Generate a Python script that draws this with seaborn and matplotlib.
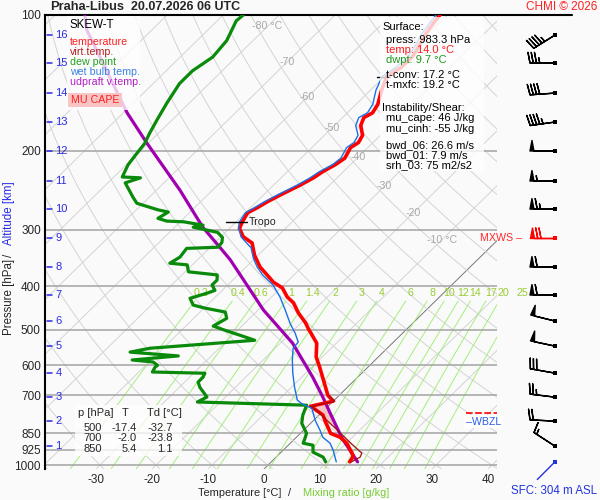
import numpy as np
import pandas as pd
import matplotlib
matplotlib.use("Agg")
import matplotlib.pyplot as plt
from matplotlib.patches import Rectangle
from matplotlib.lines import Line2D
from matplotlib.ticker import NullLocator
import matplotlib.transforms as mtrans
import seaborn as sns

sns.set_style("white")
plt.rcParams["font.family"] = ["Liberation Sans", "DejaVu Sans"]

# ---------------- data ----------------
temp_p = [983.3, 955, 935, 894, 867, 850, 800, 774, 740, 721, 700, 647, 606, 575, 536, 506, 500,
          483, 459, 436, 423, 404, 392, 378, 363, 342, 321, 311, 298, 288, 275, 268, 260, 251,
          239, 230, 223, 215, 208, 197, 192, 185, 176, 169, 165, 158, 147, 137, 131, 124, 117,
          111, 105, 100]
temp_t = [14.0, 13.6, 12.5, 10.1, 7.8, 5.4, 2.3, 0.7, -3.1, 0.0, -2.0, -5.6, -8.6, -11.1, -13.5,
          -16.7, -17.4, -19.2, -22.3, -25.0, -27.2, -29.7, -32.4, -34.8, -37.5, -40.6, -43.3,
          -46.0, -48.2, -48.9, -49.6, -48.8, -48.1, -47.0, -45.3, -44.2, -43.7, -42.7, -42.2,
          -43.1, -42.6, -43.2, -45.3, -46.2, -45.5, -46.1, -48.0, -49.6, -48.7, -48.6, -49.4,
          -50.3, -50.9, -51.3]

virt_p = [983.3, 960, 941, 900, 850, 800, 760, 740, 721, 700]
virt_t = [14.3, 15.0, 14.6, 11.3, 7.2, 2.8, -0.8, -3.0, 0.3, -1.8]

dewp_p = [983.3, 960, 936, 903, 894, 871, 850, 807, 774, 736, 724, 706, 700, 672, 654, 638, 625,
          621, 606, 600, 590, 584, 572, 561, 550, 528, 517, 500, 491, 472, 457, 448, 441, 426,
          415, 409, 398, 388, 378, 372, 359, 356, 345, 330, 328, 320, 312, 304, 296, 293, 288,
          287, 283, 274, 271, 262, 254, 236, 230, 229, 215, 203, 193, 183, 171, 157, 142, 133,
          124, 114, 103, 100]
dewp_t = [9.7, 8.4, 5.7, 4.4, 2.3, 1.7, 1.1, -1.6, -2.9, -4.0, -24.1, -23.3, -23.8, -26.3, -27.6,
          -27.6, -28.0, -37.6, -38.0, -37.9, -39.3, -43.4, -35.9, -45.2, -42.4, -25.1, -28.0,
          -32.7, -35.1, -34.1, -35.5, -39.8, -42.5, -44.3, -42.2, -41.3, -42.8, -42.8, -43.7,
          -49.4, -50.9, -54.3, -53.6, -54.0, -48.6, -48.8, -49.6, -51.4, -56.7, -55.3, -59.4,
          -62.5, -64.6, -63.9, -66.1, -71.1, -72.9, -76.9, -75.1, -78.5, -79.7, -80.2, -80.6,
          -81.6, -82.7, -84.0, -85.3, -85.3, -84.2, -84.7, -86.6, -86.4]

wetb_p = [983.3, 926, 894, 867, 836, 794, 748, 730, 717, 672, 625, 584, 550, 533, 509, 484, 452,
          423, 398, 378, 363, 347, 329, 311, 296, 288, 275, 268, 260, 251, 239, 230, 223, 215,
          208, 197, 192, 185, 176, 169, 165, 158, 147, 137, 131, 124, 117, 111, 105, 100]
wetb_t = [11.6, 8.9, 7.1, 4.7, 2.9, 0.2, -2.5, -5.2, -6.6, -9.4, -12.3, -14.8, -16.8, -17.0,
          -19.2, -21.9, -25.2, -28.5, -31.9, -35.6, -38.0, -40.3, -42.6, -46.4, -48.6, -49.4,
          -50.0, -49.3, -48.6, -47.5, -45.8, -44.8, -44.3, -43.2, -42.9, -43.8, -43.4, -44.0,
          -46.2, -47.1, -46.4, -47.0, -49.0, -50.4, -49.6, -49.4, -50.1, -51.0, -51.6, -52.0]

parcel_p = [983.3, 871, 766, 706, 638, 536, 452, 350, 328, 296, 245, 192.5, 165, 108, 100]
parcel_t = [15.4, 8.3, 1.6, -2.6, -8.0, -17.8, -29.1, -44.1, -48.3, -55.0, -65.8, -80.3,
            -89.3, -111.6, -114.7]

# wind barbs at the altitude levels (SFC, 1..16 km)
wind_p = [983.3, 907.5, 798.5, 706.3, 624.6, 544.0, 478.6, 419.0, 363.1, 313.1, 269.9, 233.8,
          200.5, 172.9, 149.1, 127.8, 110.8]
wind_dir = [225, 303, 273, 277, 280, 282, 284, 270, 270, 270, 270, 270, 270, 262, 266, 270, 238]
wind_spd = [3, 15, 20, 25, 30, 50, 50, 60, 60, 70, 65, 55, 50, 45, 40, 35, 45]
mxws_level = 9

alt_km = list(range(1, 17))
alt_p = [907.5, 798.5, 706.3, 624.6, 544.0, 478.6, 419.0, 363.1, 313.1, 269.9, 233.8, 200.5,
         172.9, 149.1, 127.8, 110.8]

p_ticks = [100, 200, 300, 400, 500, 600, 700, 850, 925, 1000]
t_ticks = [-30, -20, -10, 0, 10, 20, 30, 40]

iso_label_t = [-80, -70, -60, -50, -40, -30, -20, -10]
iso_label_p = [106, 127, 152, 178, 207, 240, 275, 316]

mix_ratios = [0.2, 0.4, 0.6, 1, 1.4, 2, 3, 4, 6, 8, 10, 12, 14, 17, 20, 25]

table_p = [500, 700, 850]
table_T = [-17.4, -2.0, 5.4]
table_Td = [-32.7, -23.8, 1.1]

info_lines = [("Surface:", "black", 0), ("press: 983.3 hPa", "black", 1),
              ("temp: 14.0 °C", "#ff1a1a", 1), ("dwpt: 9.7 °C", "#1f9a1f", 1),
              ("t-conv: 17.2 °C", "black", 1), ("t-mxfc: 19.2 °C", "black", 1),
              ("Instability/Shear:", "black", 0), ("mu_cape: 46 J/kg", "black", 1),
              ("mu_cinh: -55 J/kg", "black", 1), ("bwd_06: 26.6 m/s", "black", 1),
              ("bwd_01: 7.9 m/s", "black", 1), ("srh_03: 75 m2/s2", "black", 1)]
info_y = [27, 40, 50, 60, 75, 85, 108, 118, 129, 145, 155, 165]

tropo_p = 288
tropo_t = -48.9
tconv_mark_p = 137
tconv_mark_t = -49.6
fzl_p = 766
wbzl_p = 800

# ---------------- geometry helpers ----------------
SKEW = 82.0
P_REF = 1020.0
P_TOP = 100.0


def sx(t, p):
    return np.asarray(t, float) + SKEW * np.log10(P_REF / np.asarray(p, float))


W, H = 600, 500
BG = "#fafafa"
FS = 7.7
fig = plt.figure(figsize=(6, 5), dpi=100)
fig.patch.set_facecolor(BG)


def fx(px):
    return px / W


def fy(py):
    return 1 - py / H


L, R, T, B = 45, 497, 15, 469
ax = fig.add_axes([fx(L), fy(B), fx(R) - fx(L), fy(T) - fy(B)])
ax.set_facecolor(BG)
ax.set_yscale("log")
ax.set_ylim(P_REF, P_TOP)
ax.set_xlim(-39.1, 41.6)
blend = mtrans.blended_transform_factory(ax.transAxes, ax.transData)

GRID = "#d4d4d4"
pp = np.geomspace(P_REF, P_TOP, 80)
# isotherms
for t0 in range(-130, 50, 10):
    ax.plot(sx([t0, t0], [P_REF, P_TOP]), [P_REF, P_TOP],
            color=("#777777" if t0 == 0 else GRID), lw=0.7, zorder=1)
# dry adiabats
for th in range(-40, 210, 10):
    tt = (th + 273.15) * (pp / 1000.0) ** 0.2857 - 273.15
    ax.plot(sx(tt, pp), pp, color=GRID, lw=0.7, zorder=1)
# mixing ratio lines
MIX = "#a6ee7c"
pm = np.geomspace(P_REF, 432, 30)
for w in mix_ratios:
    e = w * pm / (622.0 + w)
    lg = np.log(e / 6.112)
    td = 243.5 * lg / (17.67 - lg)
    ax.plot(sx(td, pm), pm, color=MIX, lw=0.7, zorder=1.2)
    e2 = w * 415 / (622.0 + w)
    lg2 = np.log(e2 / 6.112)
    td2 = 243.5 * lg2 / (17.67 - lg2)
    lab = ("%g" % w)
    ax.text(sx(td2, 415), 415, lab, color="#99cc33", fontsize=FS, ha="center",
            va="center", zorder=1.3)

# isotherm labels
for t0, p0 in zip(iso_label_t, iso_label_p):
    lab = "%d °C" % t0 if t0 in (-80, -10) else "%d" % t0
    ax.text(sx(t0, p0), p0, lab, color="#a8a8a8", fontsize=FS, ha="center",
            va="center", zorder=1.3)

# pressure lines
for p0 in p_ticks[1:]:
    ax.axhline(p0, color="#a3a3a3", lw=1.1, zorder=1.5)

# CAPE fill
pg = np.geomspace(880, 700, 120)
tp = np.interp(np.log(pg), np.log(parcel_p[::-1]), parcel_t[::-1])
tv = np.interp(np.log(pg), np.log(virt_p[::-1]), virt_t[::-1])
ax.fill_betweenx(pg, sx(tv, pg), sx(tp, pg), where=tp > tv, color="#f7c4c4",
                 lw=0, zorder=2)

# profiles
def prof(p, t, color, lw, z):
    df = pd.DataFrame({"x": sx(t, p), "p": p})
    sns.lineplot(data=df, x="x", y="p", sort=False, estimator=None, color=color,
                 lw=lw, ax=ax, zorder=z)

prof(parcel_p, parcel_t, "#a000b0", 2.3, 3)
prof(dewp_p, dewp_t, "#0a8a0a", 2.3, 3.1)
prof(wetb_p, wetb_t, "#1a6fe8", 1.0, 3.3)
prof(temp_p, temp_t, "#ff0000", 2.6, 3.2)
prof(virt_p, virt_t, "#a01010", 0.9, 3.4)
ax.set_xlabel("")
ax.set_ylabel("")

# tropopause and t-conv markers
xt = float(sx(tropo_t, tropo_p))
ax.plot([xt - 3.0, xt + 0.8], [tropo_p, tropo_p], color="black", lw=1, zorder=4)
ax.text(xt + 1.2, tropo_p, "Tropo", fontsize=FS, va="center", ha="left", zorder=4)
xc = float(sx(tconv_mark_t, tconv_mark_p))
ax.plot([xc - 1.8, xc + 0.6], [tconv_mark_p, tconv_mark_p], color="black", lw=1, zorder=4)

# axes styling
for s in ("right", "bottom"):
    ax.spines[s].set_visible(False)
for s in ("left", "top"):
    ax.spines[s].set_color("black")
    ax.spines[s].set_linewidth(1.5)
ax.set_yticks(p_ticks)
ax.set_yticklabels([str(v) for v in p_ticks])
ax.yaxis.set_minor_locator(NullLocator())
ax.tick_params(axis="y", length=0, pad=3, labelsize=8.5)
ax.set_xticks(t_ticks)
ax.set_xticklabels([str(v) for v in t_ticks])
ax.tick_params(axis="x", length=0, pad=3.5, labelsize=8.5)
ax.grid(False)

# altitude ticks
ALT = "#2a2ae6"
for km, p0 in zip(alt_km, alt_p):
    ax.plot([0.005, 0.016], [p0, p0], transform=blend, color=ALT, lw=1.1,
            clip_on=False, zorder=5)
    ax.text(0.023, p0, str(km), transform=blend, color=ALT, fontsize=8,
            va="center", ha="left", zorder=5)

# level markers at right edge
ax.plot([0.931, 1.0], [fzl_p, fzl_p], transform=blend, color="red", lw=1.2,
        ls=(0, (4, 1.5)), clip_on=False, zorder=5)
ax.text(0.931, wbzl_p, "\u2012WBZL", transform=blend, color="#2a5ee6", fontsize=FS,
        va="center", ha="left", zorder=6,
        bbox=dict(fc="white", ec="none", pad=1.2))
ax.text(0.962, alt_p[mxws_level - 1], "MXWS \u2013", transform=blend, color="#ff2a2a",
        fontsize=FS, va="center", ha="left", zorder=6, clip_on=False)

# top line extension over the barb column
fig.add_artist(Line2D([fx(R), fx(572)], [fy(T), fy(T)], color="black", lw=1.5,
                      transform=fig.transFigure))

# ---------------- wind barbs ----------------
axw = fig.add_axes([fx(500), fy(B), fx(575) - fx(500), fy(T) - fy(B)])
axw.set_yscale("log")
axw.set_ylim(P_REF, P_TOP)
axw.set_xlim(0, 1)
axw.axis("off")
XB = 0.733
d = np.deg2rad(np.array(wind_dir, float))
spd = np.array(wind_spd, float)
u = -spd * np.sin(d)
v = -spd * np.cos(d)
wp = np.array(wind_p)
idx_black = [i for i in range(1, len(wp)) if i != mxws_level]
xb = np.full(len(wp), XB)
bsizes = dict(spacing=0.13, height=0.42, width=0.16)
axw.barbs(xb[idx_black], wp[idx_black], u[idx_black], v[idx_black], length=6,
          color="black", lw=1.0, sizes=bsizes)
axw.barbs(xb[[mxws_level]], wp[[mxws_level]], u[[mxws_level]], v[[mxws_level]],
          length=6, color="red", lw=1.0, sizes=bsizes)
# surface wind: staff only (light wind)
staff_pt = 18.0
axw.annotate("", xy=(XB, wp[0]), xytext=(staff_pt * np.sin(d[0]), staff_pt * np.cos(d[0])),
             textcoords="offset points",
             arrowprops=dict(arrowstyle="-", color="#2233dd", lw=1.0,
                             shrinkA=0, shrinkB=0))
cols = ["#2233dd"] + ["black"] * (len(wp) - 1)
cols[mxws_level] = "red"
axw.scatter(xb, wp, marker="s", s=8, c=cols, zorder=5, linewidths=0)

# ---------------- boxes & texts ----------------
def box(x0, y0, x1, y1, alpha=0.78):
    fig.add_artist(Rectangle((fx(x0), fy(y1)), fx(x1) - fx(x0), fy(y0) - fy(y1),
                             transform=fig.transFigure, fc="white", ec="none",
                             alpha=alpha, zorder=1))


def ftext(px, py, s, **kw):
    kw.setdefault("fontsize", FS)
    kw.setdefault("va", "center")
    fig.text(fx(px), fy(py), s, zorder=3, **kw)


# legend box
box(67, 16, 140, 110)
ftext(70, 25, "SKEW-T", color="black", fontsize=8.3)
leg = [("temperature", "#ff2020"), ("virt.temp.", "#b02020"), ("dew point", "#22a022"),
       ("wet bulb temp.", "#3a80e0"), ("udpraft v.temp.", "#b020c0")]
for i, (s, c) in enumerate(leg):
    ftext(70, 42 + 10 * i, s, color=c)
ftext(95, 100, "MU CAPE", color="#ff2020", ha="center",
      bbox=dict(fc="#f8c4c4", ec="none", pad=1.8))

# info box
box(380, 17, 484, 171)
for (s, c, ind), yy in zip(info_lines, info_y):
    ftext(382 + 4 * ind, yy, s, color=c, fontsize=8)

# table box
box(75, 405, 182, 456)
ftext(78, 413, "p [hPa]", fontsize=8)
ftext(125, 413, "T", ha="center", fontsize=8)
ftext(147, 413, "Td [°C]", fontsize=8)
for i, (pv, tv_, tdv) in enumerate(zip(table_p, table_T, table_Td)):
    yy = 428 + 10.3 * i
    ftext(102, yy, "%d" % pv, ha="right", fontsize=8)
    ftext(137, yy, "%.1f" % tv_, ha="right", fontsize=8)
    ftext(173, yy, "%.1f" % tdv, ha="right", fontsize=8)

# titles / labels
ftext(50, 7, "Praha-Libus", fontweight="bold", fontsize=9.3)
ftext(131, 7, "20.07.2026 06 UTC", fontweight="bold", fontsize=9)
ftext(597, 7, "CHMI © 2026", color="#ff2020", ha="right", fontsize=8.5)
ftext(597, 491, "SFC: 304 m ASL", color="#2233dd", ha="right", fontsize=8.3)

ftext(198, 493, "Temperature [°C]", ha="left", fontsize=7.9)
ftext(289, 493, "/", ha="center", fontsize=7.9)
ftext(303, 493, "Mixing ratio [g/kg]", color="#77cc33", ha="left", fontsize=7.9)

ftext(9, 297, "Pressure [hPa]", rotation=90, ha="center", fontsize=8.3)
ftext(9, 255, "/", rotation=90, ha="center", fontsize=8.3)
ftext(9, 213, "Altitude [km]", rotation=90, ha="center", color=ALT, fontsize=8.3)

fig.savefig("out.png", dpi=100, facecolor=BG)
